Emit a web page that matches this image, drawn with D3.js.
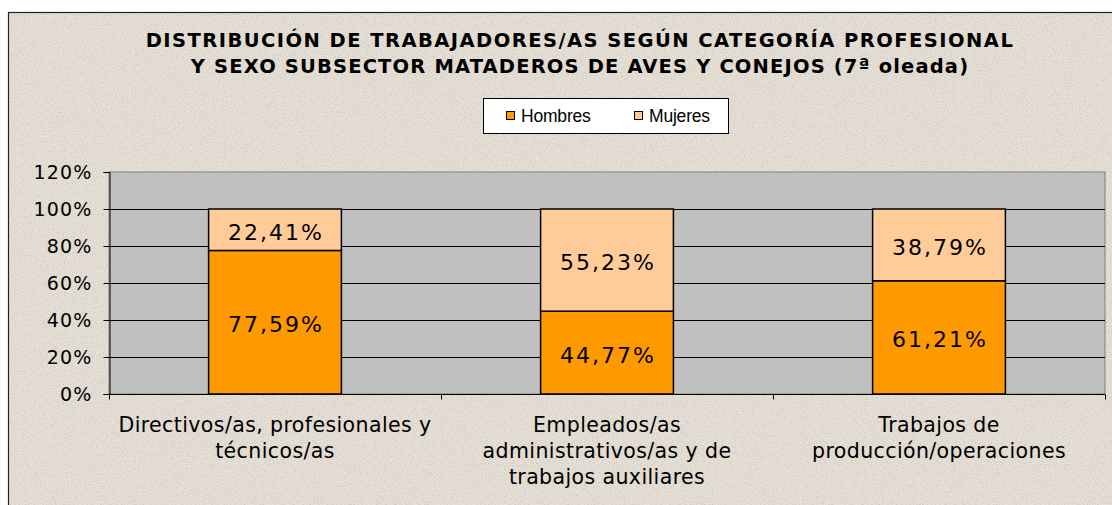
<!DOCTYPE html>
<html><head><meta charset="utf-8">
<script src="https://cdn.jsdelivr.net/npm/d3@7"></script>
<style>
html,body{margin:0;padding:0;background:#fff;}
svg{display:block;}
</style></head>
<body>
<svg id="chart" width="1112" height="505"></svg>
<script>
const titleLines = ["DISTRIBUCIÓN DE TRABAJADORES/AS SEGÚN CATEGORÍA PROFESIONAL", "Y SEXO SUBSECTOR MATADEROS DE AVES Y CONEJOS (7ª oleada)"];
const categories = [
  ["Directivos/as, profesionales y", "técnicos/as"],
  ["Empleados/as", "administrativos/as y de", "trabajos auxiliares"],
  ["Trabajos de", "producción/operaciones"]
];
const seriesNames = ["Hombres", "Mujeres"];
const hombres = [77.59, 44.77, 61.21];
const mujeres = [22.41, 55.23, 38.79];
const yTicks = [0, 20, 40, 60, 80, 100, 120];
const colors = ["#ff9900", "#ffcc99"];

(function(){
const svg = d3.select("#chart");
const defs = svg.append("defs");
const f = defs.append("filter").attr("id","noise").attr("x",0).attr("y",0).attr("width","100%").attr("height","100%");
f.append("feTurbulence").attr("type","fractalNoise").attr("baseFrequency","0.9").attr("numOctaves",2).attr("seed",3).attr("result","t");
f.append("feColorMatrix").attr("in","t").attr("type","matrix")
  .attr("values","0 0 0 0 0.55  0 0 0 0 0.5  0 0 0 0 0.45  0 0 0 -2.2 1.25").attr("result","n");
f.append("feComposite").attr("in","n").attr("in2","SourceGraphic").attr("operator","in");

svg.append("rect").attr("x",8.5).attr("y",12.5).attr("width",1110).attr("height",500)
  .attr("fill","#e6e0d6").attr("stroke","#222").attr("stroke-width",1.2);
svg.append("rect").attr("x",9).attr("y",13).attr("width",1103).attr("height",492)
  .attr("fill","#e6e0d6").attr("filter","url(#noise)").attr("opacity",0.7);

svg.append("g").selectAll("text").data(titleLines).join("text")
  .attr("x",580).attr("y",(d,i)=>47+i*26)
  .attr("text-anchor","middle")
  .attr("font-family","'DejaVu Sans', Verdana, sans-serif")
  .attr("font-weight","bold").attr("font-size",19.5).attr("letter-spacing",(d,i)=>i===0?1.45:1.15)
  .attr("fill","#000").text(d=>d);

const lg = svg.append("g");
lg.append("rect").attr("x",483.5).attr("y",98.5).attr("width",245).attr("height",35)
  .attr("fill","#fff").attr("stroke","#000").attr("stroke-width",1);
const legX = [506, 634];
seriesNames.forEach((s,i)=>{
  lg.append("rect").attr("x",legX[i]+0.5).attr("y",111.5).attr("width",8).attr("height",8)
    .attr("fill",colors[i]).attr("stroke","#000").attr("stroke-width",1);
  lg.append("text").attr("x",legX[i]+15).attr("y",122)
    .attr("font-family","'Liberation Sans', Arial, sans-serif").attr("font-size",17.5)
    .attr("letter-spacing",-0.2).text(s);
});

const pLeft = 109, pRight = 1105, pTop = 172, pBottom = 394;
const x = d3.scaleBand().domain(d3.range(categories.length)).range([pLeft,pRight]).paddingInner(0.6).paddingOuter(0.3);
const y = d3.scaleLinear().domain([0,120]).range([pBottom, pTop]);

svg.append("rect").attr("x",pLeft).attr("y",pTop).attr("width",pRight-pLeft).attr("height",pBottom-pTop)
  .attr("fill","#c0c0c0").attr("stroke","#808080").attr("stroke-width",1);

svg.append("g").selectAll("line").data(yTicks.filter(t=>t>0 && t<120)).join("line")
  .attr("x1",pLeft).attr("x2",pRight).attr("y1",d=>Math.round(y(d))+0.5).attr("y2",d=>Math.round(y(d))+0.5)
  .attr("stroke","#000").attr("stroke-width",1);

const stackData = categories.map((c,i)=>({i, Hombres:hombres[i], Mujeres:mujeres[i]}));
const stack = d3.stack().keys(seriesNames)(stackData);
const layers = svg.append("g").selectAll("g").data(stack).join("g").attr("fill",(d,i)=>colors[i]);
layers.selectAll("rect").data(d=>d).join("rect")
  .attr("x",d=>x(d.data.i)).attr("width",x.bandwidth())
  .attr("y",d=>y(d[1])).attr("height",d=>y(d[0])-y(d[1]))
  .attr("stroke","#000").attr("stroke-width",1.5);

const fmt = v => v.toFixed(2).replace(".",",") + "%";
stack.forEach((layer)=>{
  svg.append("g").selectAll("text").data(layer).join("text")
    .attr("x",d=>x(d.data.i)+x.bandwidth()/2+1)
    .attr("y",d=>(y(d[0])+y(d[1]))/2+10)
    .attr("text-anchor","middle")
    .attr("font-family","'DejaVu Sans', Verdana, sans-serif").attr("font-size",22)
    .attr("letter-spacing",2)
    .attr("fill","#000").text(d=>fmt(d[1]-d[0]));
});

const yAxis = d3.axisLeft(y).tickValues(yTicks).tickFormat(d=>d+"%").tickSize(6).tickPadding(11);
const ya = svg.append("g").attr("transform",`translate(${pLeft+0.5},0)`).call(yAxis);
ya.select(".domain").attr("stroke","#000");
ya.selectAll(".tick line").attr("stroke","#000");
ya.selectAll("text").attr("font-family","'DejaVu Sans', Verdana, sans-serif").attr("font-size",19)
  .attr("letter-spacing",1.2).attr("fill","#000").attr("dy","0.36em");

const xa = svg.append("g").attr("transform",`translate(0,${pBottom+0.5})`);
xa.append("line").attr("x1",pLeft).attr("x2",pRight).attr("stroke","#000");
const sepTicks = d3.range(categories.length+1).map(k=> pLeft + k*x.step());
xa.selectAll("line.t").data(sepTicks).join("line").attr("class","t")
  .attr("x1",d=>Math.round(d)+0.5).attr("x2",d=>Math.round(d)+0.5).attr("y1",0).attr("y2",5).attr("stroke","#000");
const cl = svg.append("g");
categories.forEach((lines,i)=>{
  cl.append("text").attr("text-anchor","middle")
    .attr("font-family","'DejaVu Sans', Verdana, sans-serif").attr("font-size",20.5)
    .attr("letter-spacing",0.4)
    .attr("fill","#000")
    .selectAll("tspan").data(lines).join("tspan")
    .attr("x",x(i)+x.bandwidth()/2).attr("y",(d,k)=>432+k*26).text(d=>d);
});
})();
</script>
</body></html>
